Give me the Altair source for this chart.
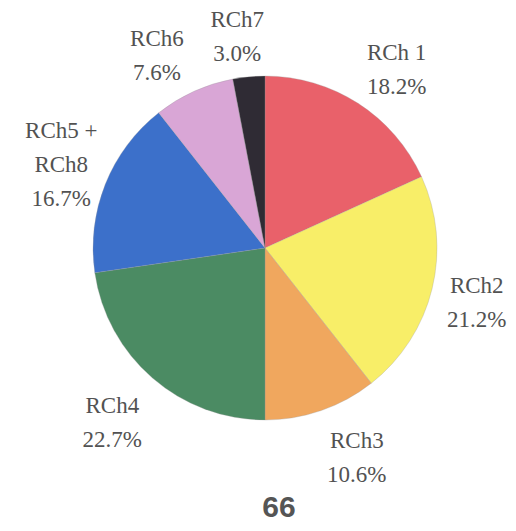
import altair as alt
import pandas as pd

categories = ["RCh 1", "RCh2", "RCh3", "RCh4", "RCh5 +\nRCh8", "RCh6", "RCh7"]
values = [18.2, 21.2, 10.6, 22.7, 16.7, 7.6, 3.0]
pct_labels = ["18.2%", "21.2%", "10.6%", "22.7%", "16.7%", "7.6%", "3.0%"]
colors = ["#E9616A", "#F8EE68", "#F0A75E", "#4B8B63", "#3C70CA", "#D9A6D6", "#2F2B34"]
footer = ["66"]

W, H = 460, 440          # plot area; pie centred in it
R_PIE = 172
R_LAB = 186              # where label boxes touch
LH = 34                  # label line height
HW = 31                  # approx half width of a label box

df = pd.DataFrame({
    "cat": categories,
    "value": values,
    "label": [c + "\n" + p for c, p in zip(categories, pct_labels)],
    "idx": list(range(len(categories))),
})

theta = alt.Theta("value:Q", stack=True)
order = alt.Order("idx:Q", sort="ascending")

pie = alt.Chart(df).mark_arc(radius=R_PIE, stroke="#9a9a9a", strokeWidth=0.3).encode(
    theta=theta,
    order=order,
    color=alt.Color("cat:N", scale=alt.Scale(domain=categories, range=colors), legend=None),
)

labels = alt.Chart(df).transform_joinaggregate(
    total="sum(value)"
).transform_window(
    cum="sum(value)", sort=[alt.SortField("idx")], frame=[None, 0]
).transform_calculate(
    mid="2*PI*(datum.cum - datum.value/2)/datum.total",
    nl="length(split(datum.label, '\\n'))",
).transform_calculate(
    vf="cos(datum.mid) >= 0 ? 0.75*cos(datum.mid) : clamp(1.35*cos(datum.mid), -1, 0)",
).transform_calculate(
    lx=f"{R_LAB}*sin(datum.mid) + {HW}*clamp(3.5*sin(datum.mid), -1, 1)",
    ly=f"{R_LAB}*cos(datum.mid) + datum.vf*datum.nl*{LH/2} + (datum.nl-1)*{LH/2}",
).mark_text(
    font="Liberation Serif", fontSize=23, color="#525252",
    lineBreak="\n", lineHeight=LH, align="center", baseline="middle",
).encode(
    x=alt.X("lx:Q", scale=alt.Scale(domain=[-W / 2, W / 2]), axis=None),
    y=alt.Y("ly:Q", scale=alt.Scale(domain=[-H / 2, H / 2]), axis=None),
    text="label:N",
)

foot = alt.Chart(pd.DataFrame({"t": footer})).mark_text(
    font="Liberation Sans", fontSize=30, fontWeight="bold", color="#555555",
    align="center", baseline="middle",
).encode(
    text="t:N",
    x=alt.value(244),
    y=alt.value(480),
)

chart = alt.layer(pie, labels, foot).properties(
    width=W, height=H,
    padding={"left": 27, "top": 20, "right": 13, "bottom": 55},
    autosize=alt.AutoSizeParams(type="none"),
    background="#ffffff",
).configure_view(stroke=None, strokeWidth=0)

chart.save("out.html", embed_options={"renderer": "svg", "actions": False})
